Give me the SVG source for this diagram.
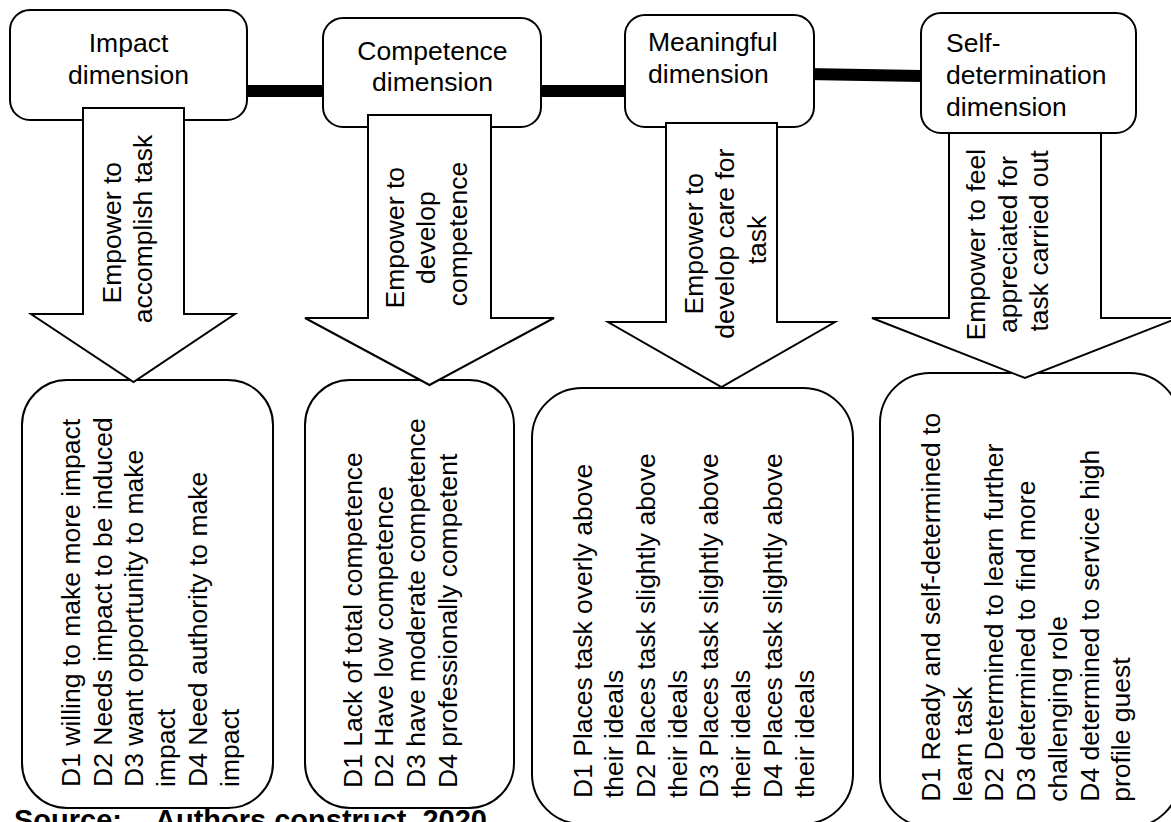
<svg xmlns="http://www.w3.org/2000/svg" width="1171" height="822" viewBox="0 0 1171 822">
  <style>
    .box { fill: #fff; stroke: #000; stroke-width: 2; }
    .arrow { fill: #fff; stroke: #000; stroke-width: 2; stroke-linejoin: miter; }
    .bar { stroke: #000; stroke-width: 12; stroke-linecap: butt; fill: none; }
    .t { font-family: "Liberation Sans", Arial, sans-serif; font-size: 26.5px; fill: #000; }
    .mid { text-anchor: middle; }
    .src { font-family: "Liberation Sans", Arial, sans-serif; font-size: 29px; font-weight: bold; fill: #000; }
  </style>

  <!-- links between the dimension boxes -->
  <g id="connectors">
    <line class="bar" x1="246" y1="91" x2="324" y2="91"/>
    <line class="bar" x1="540" y1="91" x2="626" y2="91"/>
    <polygon fill="#000" points="806,68 922,70 922,82 806,80"/>
  </g>

  <!-- dimension boxes -->
  <g id="impact">
    <rect class="box" x="10" y="10" width="237" height="110" rx="20"/>
    <text class="t mid" x="128.5" y="52">Impact</text>
    <text class="t mid" x="128.5" y="84">dimension</text>
  </g>
  <g id="competence">
    <rect class="box" x="323" y="18" width="218" height="109" rx="20"/>
    <text class="t mid" x="432.5" y="60">Competence</text>
    <text class="t mid" x="432.5" y="91">dimension</text>
  </g>
  <g id="meaningful">
    <rect class="box" x="625" y="15" width="189" height="112" rx="20"/>
    <text class="t" x="648" y="50.5">Meaningful</text>
    <text class="t" x="648" y="82.5">dimension</text>
  </g>
  <g id="self-determination">
    <rect class="box" x="921" y="13" width="215" height="120" rx="20"/>
    <text class="t" x="946" y="52">Self-</text>
    <text class="t" x="946" y="84">determination</text>
    <text class="t" x="946" y="116">dimension</text>
  </g>

  <!-- outcome boxes -->
  <g id="impact-levels">
    <rect class="box" x="22" y="380" width="251" height="428" rx="45"/>
    <text class="t" transform="translate(80,787) rotate(-90)">
      <tspan x="0" dy="0">D1 willing to make more impact</tspan>
      <tspan x="0" dy="31.7">D2 Needs impact to be induced</tspan>
      <tspan x="0" dy="31.7">D3 want opportunity to make</tspan>
      <tspan x="0" dy="31.7">impact</tspan>
      <tspan x="0" dy="31.7">D4 Need authority to make</tspan>
      <tspan x="0" dy="31.7">impact</tspan>
    </text>
  </g>
  <g id="competence-levels">
    <rect class="box" x="305" y="380" width="209" height="428" rx="45"/>
    <text class="t" transform="translate(361.7,788) rotate(-90)">
      <tspan x="0" dy="0">D1 Lack of total competence</tspan>
      <tspan x="0" dy="31.7">D2 Have low competence</tspan>
      <tspan x="0" dy="31.7">D3 have moderate competence</tspan>
      <tspan x="0" dy="31.7">D4 professionally competent</tspan>
    </text>
  </g>
  <g id="meaningful-levels">
    <rect class="box" x="532" y="388" width="321" height="436" rx="50"/>
    <text class="t" transform="translate(591.7,798) rotate(-90)">
      <tspan x="0" dy="0">D1 Places task overly above</tspan>
      <tspan x="0" dy="31.7">their ideals</tspan>
      <tspan x="0" dy="31.7">D2 Places task slightly above</tspan>
      <tspan x="0" dy="31.7">their ideals</tspan>
      <tspan x="0" dy="31.7">D3 Places task slightly above</tspan>
      <tspan x="0" dy="31.7">their ideals</tspan>
      <tspan x="0" dy="31.7">D4 Places task slightly above</tspan>
      <tspan x="0" dy="31.7">their ideals</tspan>
    </text>
  </g>
  <g id="self-determination-levels">
    <rect class="box" x="880" y="373" width="300" height="454" rx="50"/>
    <text class="t" transform="translate(940,801.7) rotate(-90)">
      <tspan x="0" dy="0">D1 Ready and self-determined to</tspan>
      <tspan x="0" dy="31.7">learn task</tspan>
      <tspan x="0" dy="31.7">D2 Determined to learn further</tspan>
      <tspan x="0" dy="31.7">D3 determined to find more</tspan>
      <tspan x="0" dy="31.7">challenging role</tspan>
      <tspan x="0" dy="31.7">D4 determined to service high</tspan>
      <tspan x="0" dy="31.7">profile guest</tspan>
    </text>
  </g>

  <!-- down arrows -->
  <g id="arrow-impact">
    <path class="arrow" d="M83,108 H184 V314 H235 L133.5,382 L31,314 H83 Z"/>
    <text class="t mid" transform="translate(120.5,229) rotate(-90)">
      <tspan x="0" dy="0">Empower to</tspan>
      <tspan x="0" dy="31.5">accomplish task</tspan>
    </text>
  </g>
  <g id="arrow-competence">
    <path class="arrow" d="M368,115 H491 V318 H554 L429.5,385 L305,318 H368 Z"/>
    <text class="t mid" transform="translate(403.6,234) rotate(-90)">
      <tspan x="0" dy="0">Empower to</tspan>
      <tspan x="0" dy="31.5">develop</tspan>
      <tspan x="0" dy="31.5">competence</tspan>
    </text>
  </g>
  <g id="arrow-meaningful">
    <path class="arrow" d="M666,123 H777 V322 H835 L721.5,387 L608,322 H666 Z"/>
    <text class="t mid" transform="translate(702.5,240) rotate(-90)">
      <tspan x="0" dy="0">Empower to</tspan>
      <tspan x="0" dy="31.5">develop care for</tspan>
      <tspan x="0" dy="31.5">task</tspan>
    </text>
  </g>
  <g id="arrow-self-determination">
    <path class="arrow" d="M949,133 H1101 V318 H1178 L1025,378 L872,318 H949 Z"/>
    <text class="t mid" transform="translate(985,241) rotate(-90)">
      <tspan x="0" dy="0">Empower to feel</tspan>
      <tspan x="0" dy="31.5">appreciated for</tspan>
      <tspan x="0" dy="31.5">task carried out</tspan>
    </text>
  </g>

  <!-- source line -->
  <text class="src" y="830"><tspan x="14">Source:</tspan><tspan x="155">Authors construct, 2020</tspan></text>
</svg>
